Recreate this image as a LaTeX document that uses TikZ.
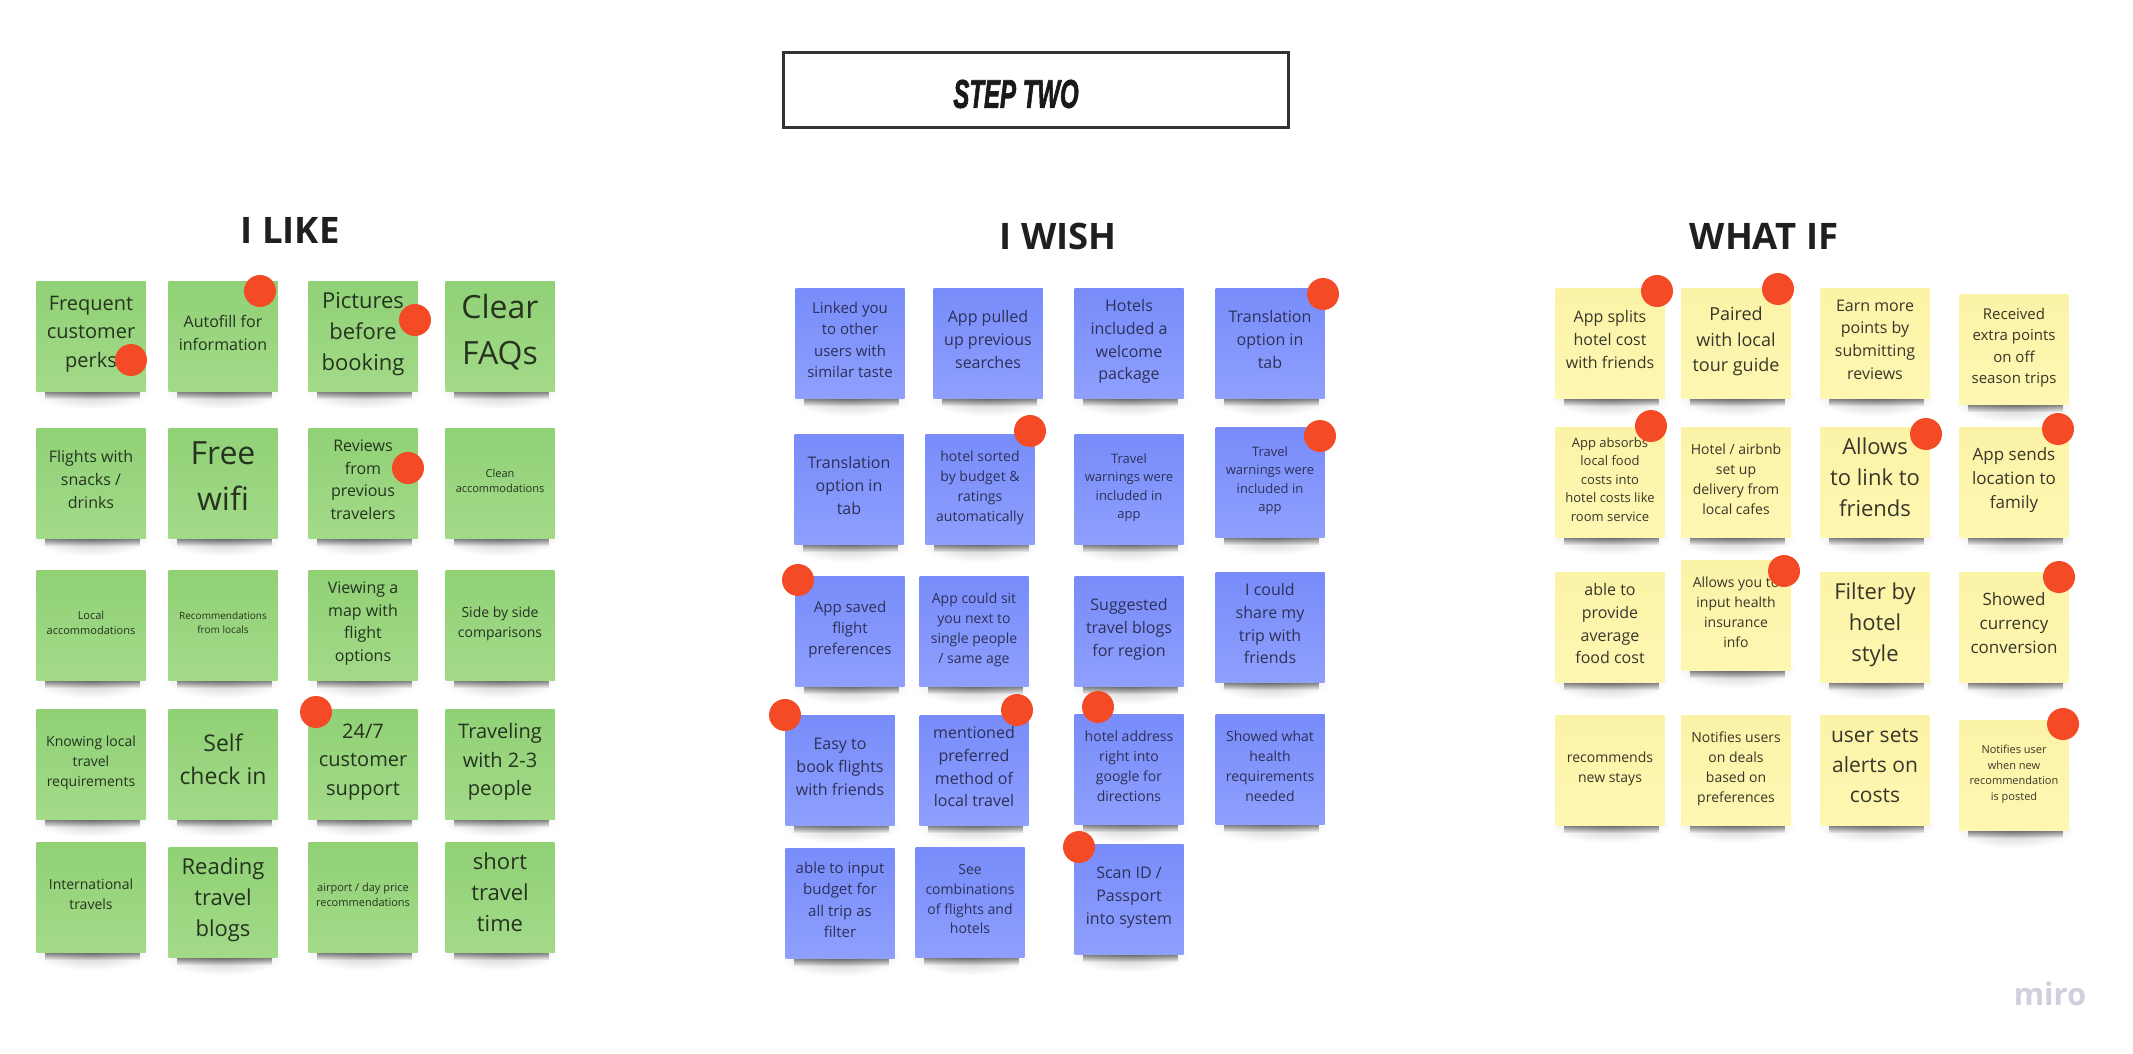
\documentclass[tikz,border=0pt]{standalone}
\usepackage{fontspec}
\setmainfont{Open Sans}
\newfontfamily\stepfont[BoldItalicFeatures={FakeBold=2.2}]{Liberation Sans}
\usetikzlibrary{fadings,backgrounds}

\definecolor{likeTop}{HTML}{90D176}
\definecolor{likeBot}{HTML}{A3DA88}
\definecolor{wishTop}{HTML}{788CFA}
\definecolor{wishBot}{HTML}{8E9FFD}
\definecolor{ifTop}{HTML}{FBF3A6}
\definecolor{ifBot}{HTML}{FEF7B2}
\definecolor{dotRed}{HTML}{F44A26}
\definecolor{miroGrey}{HTML}{CFCFDE}
\definecolor{likeText}{HTML}{25331F}
\definecolor{wishText}{HTML}{2C3157}
\definecolor{ifText}{HTML}{38362A}

\newcommand{\sz}[1]{\fontsize{#1}{\the\dimexpr #1pt*142/100\relax}\selectfont}
\tikzfading[name=bandfade, top color=transparent!50, bottom color=transparent!100]
\tikzfading[name=halofade, inner color=transparent!78, outer color=transparent!100]

\tikzset{
	note/.style={rectangle, minimum width=109pt, minimum height=110pt, inner sep=0pt, align=center,
		execute at begin node=\strut, execute at end node={\rule[-.3\baselineskip]{0pt}{0pt}},
		append after command={\pgfextra{\begin{scope}[on background layer]
			\fill[black, path fading=halofade] ([xshift=-5pt,yshift=18pt]\tikzlastnode.south west) rectangle ([xshift=5pt,yshift=-18pt]\tikzlastnode.south east);
			\fill[black, path fading=bandfade] ([xshift=9pt,yshift=0pt]\tikzlastnode.south west) rectangle ([xshift=-6pt,yshift=-8pt]\tikzlastnode.south east);
		\end{scope}}}},
	like/.style={note, top color=likeTop, bottom color=likeBot, text=likeText},
	wish/.style={note, top color=wishTop, bottom color=wishBot, text=wishText},
	whatif/.style={note, top color=ifTop, bottom color=ifBot, text=ifText},
	dot/.style={circle, fill=dotRed, minimum size=32pt, inner sep=0pt},
	head/.style={font=\sz{36.5}\bfseries, text=black!88}
}

\begin{document}
\begin{tikzpicture}[x=1pt,y=-1pt]
	\useasboundingbox (0,0) rectangle (2133,1054);
	
	%title
	\node[draw=black!80, line width=2.2pt, minimum width=505pt, minimum height=75pt] (box) at (1036,90){};
	\node[font=\stepfont\sz{40}\bfseries\itshape, xscale=0.6, transform shape, text=black!90] (step) at (1016,94){STEP TWO};
	
	%headings
	\node[head] (hlike) at (290,230){I LIKE};
	\node[head] (hwish) at (1058,236){I WISH};
	\node[head] (hif) at (1764,236){WHAT IF};
	
	%I like, first row
	\node[like, font=\sz{20}] (l11) at (91,336){Frequent\\customer\\perks};
	\node[like, font=\sz{16}] (l12) at (223,336){Autofill for\\information};
	\node[like, font=\sz{22}] (l13) at (363,336){Pictures\\before\\booking};
	\node[like, font=\sz{32}] (l14) at (500,336){Clear\\FAQs};
	
	%I like, second row
	\node[like, font=\sz{16}] (l21) at (91,483){Flights with\\snacks /\\drinks};
	\node[like, font=\sz{32}] (l22) at (223,483){Free\\wifi};
	\node[like, font=\sz{16}] (l23) at (363,483){Reviews\\from\\previous\\travelers};
	\node[like, font=\sz{11}] (l24) at (500,483){Clean\\accommodations};
	
	%I like, third row
	\node[like, font=\sz{11}] (l31) at (91,625){Local\\accommodations};
	\node[like, font=\sz{10}] (l32) at (223,625){Recommendations\\from locals};
	\node[like, font=\sz{16}] (l33) at (363,625){Viewing a\\map with\\flight\\options};
	\node[like, font=\sz{14}] (l34) at (500,625){Side by side\\comparisons};
	
	%I like, fourth row
	\node[like, font=\sz{14}] (l41) at (91,764){Knowing local\\travel\\requirements};
	\node[like, font=\sz{23}] (l42) at (223,764){Self\\check in};
	\node[like, font=\sz{20}] (l43) at (363,764){24/7\\customer\\support};
	\node[like, font=\sz{20}] (l44) at (500,764){Traveling\\with 2-3\\people};
	
	%I like, fifth row
	\node[like, font=\sz{14}] (l51) at (91,897){International\\travels};
	\node[like, font=\sz{22}] (l52) at (223,902){Reading\\travel\\blogs};
	\node[like, font=\sz{11}] (l53) at (363,897){airport / day price\\recommendations};
	\node[like, font=\sz{22}] (l54) at (500,897){short\\travel\\time};
	
	%I wish, first row
	\node[wish, font=\sz{15}] (w11) at (850,343){Linked you\\to other\\users with\\similar taste};
	\node[wish, font=\sz{16}] (w12) at (988,343){App pulled\\up previous\\searches};
	\node[wish, font=\sz{16}] (w13) at (1129,343){Hotels\\included a\\welcome\\package};
	\node[wish, font=\sz{16}] (w14) at (1270,343){Translation\\option in\\tab};
	
	%I wish, second row
	\node[wish, font=\sz{16}] (w21) at (849,489){Translation\\option in\\tab};
	\node[wish, font=\sz{14}] (w22) at (980,489){hotel sorted\\by budget \&\\ratings\\automatically};
	\node[wish, font=\sz{13}] (w23) at (1129,489){Travel\\warnings were\\included in\\app};
	\node[wish, font=\sz{13}] (w24) at (1270,482){Travel\\warnings were\\included in\\app};
	
	%I wish, third row
	\node[wish, font=\sz{15}] (w31) at (850,631){App saved\\flight\\preferences};
	\node[wish, font=\sz{14}] (w32) at (974,631){App could sit\\you next to\\single people\\/ same age};
	\node[wish, font=\sz{16}] (w33) at (1129,631){Suggested\\travel blogs\\for region};
	\node[wish, font=\sz{16}] (w34) at (1270,627){I could\\share my\\trip with\\friends};
	
	%I wish, fourth row
	\node[wish, font=\sz{16}] (w41) at (840,770){Easy to\\book flights\\with friends};
	\node[wish, font=\sz{16}] (w42) at (974,770){mentioned\\preferred\\method of\\local travel};
	\node[wish, font=\sz{14}] (w43) at (1129,769){hotel address\\right into\\google for\\directions};
	\node[wish, font=\sz{14}] (w44) at (1270,769){Showed what\\health\\requirements\\needed};
	
	%I wish, fifth row
	\node[wish, font=\sz{15}] (w51) at (840,903){able to input\\budget for\\all trip as\\filter};
	\node[wish, font=\sz{14}] (w52) at (970,902){See\\combinations\\of flights and\\hotels};
	\node[wish, font=\sz{16}] (w53) at (1129,899){Scan ID /\\Passport\\into system};
	
	%what if, first row
	\node[whatif, font=\sz{16}] (f11) at (1610,343){App splits\\hotel cost\\with friends};
	\node[whatif, font=\sz{18}] (f12) at (1736,343){Paired\\with local\\tour guide};
	\node[whatif, font=\sz{16}] (f13) at (1875,343){Earn more\\points by\\submitting\\reviews};
	\node[whatif, font=\sz{15}] (f14) at (2014,349){Received\\extra points\\on off\\season trips};
	
	%what if, second row
	\node[whatif, font=\sz{13}] (f21) at (1610,482){App absorbs\\local food\\costs into\\hotel costs like\\room service};
	\node[whatif, font=\sz{14}] (f22) at (1736,482){Hotel / airbnb\\set up\\delivery from\\local cafes};
	\node[whatif, font=\sz{22}] (f23) at (1875,482){Allows\\to link to\\friends};
	\node[whatif, font=\sz{17}] (f24) at (2014,482){App sends\\location to\\family};
	
	%what if, third row
	\node[whatif, font=\sz{16}] (f31) at (1610,627){able to\\provide\\average\\food cost};
	\node[whatif, font=\sz{14}] (f32) at (1736,615){Allows you to\\input health\\insurance\\info};
	\node[whatif, font=\sz{22}] (f33) at (1875,627){Filter by\\hotel\\style};
	\node[whatif, font=\sz{17}] (f34) at (2014,627){Showed\\currency\\conversion};
	
	%what if, fourth row
	\node[whatif, font=\sz{14}] (f41) at (1610,770){recommends\\new stays};
	\node[whatif, font=\sz{14}] (f42) at (1736,770){Notifies users\\on deals\\based on\\preferences};
	\node[whatif, font=\sz{21}] (f43) at (1875,770){user sets\\alerts on\\costs};
	\node[whatif, font=\sz{11}] (f44) at (2014,775){Notifies user\\when new\\recommendation\\is posted};
	
	%votes
	\node[dot] (d1) at (131,360){};
	\node[dot] (d2) at (260,291){};
	\node[dot] (d3) at (415,320){};
	\node[dot] (d4) at (408,468){};
	\node[dot] (d5) at (316,712){};
	\node[dot] (d6) at (1323,294){};
	\node[dot] (d7) at (1030,431){};
	\node[dot] (d8) at (1320,436){};
	\node[dot] (d9) at (798,580){};
	\node[dot] (d10) at (785,715){};
	\node[dot] (d11) at (1017,710){};
	\node[dot] (d12) at (1098,707){};
	\node[dot] (d13) at (1079,847){};
	\node[dot] (d14) at (1657,291){};
	\node[dot] (d15) at (1778,289){};
	\node[dot] (d16) at (1651,426){};
	\node[dot] (d17) at (1926,434){};
	\node[dot] (d18) at (2058,429){};
	\node[dot] (d19) at (1784,571){};
	\node[dot] (d20) at (2059,577){};
	\node[dot] (d21) at (2063,724){};
	
	%logo
	\node[font=\sz{31}\bfseries, text=miroGrey] (logo) at (2050,994){miro};
	
\end{tikzpicture}
\end{document}
